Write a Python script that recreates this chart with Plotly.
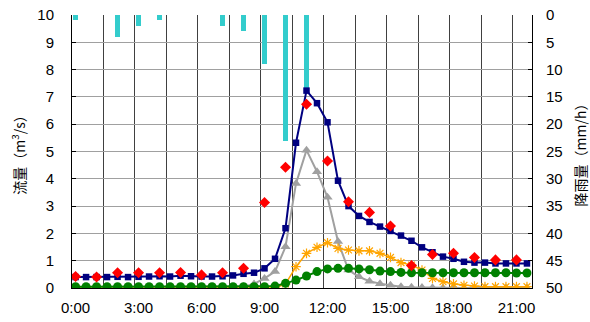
import plotly.graph_objects as go

# ---- data ----
time_labels = ["0:00","0:30","1:00","1:30","2:00","2:30","3:00","3:30","4:00","4:30",
               "5:00","5:30","6:00","6:30","7:00","7:30","8:00","8:30","9:00","9:30",
               "10:00","10:30","11:00","11:30","12:00","12:30","13:00","13:30","14:00","14:30",
               "15:00","15:30","16:00","16:30","17:00","17:30","18:00","18:30","19:00","19:30",
               "20:00","20:30","21:00","21:30"]

calc_total = [0.40,0.40,0.40,0.40,0.41,0.40,0.41,0.42,0.43,0.42,
              0.45,0.43,0.42,0.42,0.43,0.46,0.52,0.56,0.72,1.07,
              2.19,5.32,7.23,6.77,6.07,3.93,3.00,2.64,2.42,2.25,
              2.09,1.92,1.73,1.49,1.31,1.15,1.07,0.96,0.93,0.93,
              0.90,0.90,0.90,0.90]

calc_surface = [0,0,0,0,0,0,0,0,0,0,
                0,0,0,0,0,0,0.05,0.15,0.35,0.60,
                1.51,3.83,5.05,4.26,3.32,1.70,0.66,0.41,0.25,0.16,
                0.10,0.05,0.03,0.02,0.01,0,0,0,0,0,
                0,0,0,0]

calc_inter = [0,0,0,0,0,0,0,0,0,0,
              0,0,0,0,0,0,0,0,0,0,
              0.15,0.78,1.27,1.49,1.66,1.45,1.39,1.36,1.36,1.27,
              1.12,0.93,0.84,0.66,0.35,0.23,0.15,0.10,0.07,0.05,
              0.05,0.05,0.05,0.05]

calc_base = [0.05,0.05,0.05,0.05,0.05,0.05,0.05,0.05,0.05,0.05,
             0.05,0.05,0.05,0.05,0.05,0.05,0.05,0.05,0.05,0.07,
             0.17,0.29,0.44,0.60,0.70,0.72,0.72,0.70,0.67,0.62,
             0.60,0.57,0.56,0.56,0.56,0.56,0.56,0.56,0.56,0.56,
             0.56,0.56,0.55,0.55]

obs_labels = ["0:00","1:00","2:00","3:00","4:00","5:00","6:00","7:00","8:00","9:00","10:00",
              "11:00","12:00","13:00","14:00","15:00","16:00","17:00","18:00","19:00","20:00","21:00"]
obs_flow = [0.42,0.40,0.56,0.56,0.56,0.57,0.48,0.56,0.72,3.13,4.42,
            6.73,4.65,3.16,2.77,2.27,0.82,1.23,1.27,1.12,1.03,1.03]

rain_labels = ["0:00","2:00","3:00","4:00","7:00","8:00","9:00","10:00","11:00"]
rain_mm = [1, 4, 2, 1, 2, 3, 9, 23, 13.5]

xtick_labels = ["0:00","3:00","6:00","9:00","12:00","15:00","18:00","21:00"]


def to_hours(s):
    h, m = s.split(":")
    return int(h) + int(m) / 60.0


t = [to_hours(s) for s in time_labels]
t_obs = [to_hours(s) for s in obs_labels]
t_rain = [to_hours(s) for s in rain_labels]
t_ticks = [to_hours(s) for s in xtick_labels]

FONT = "Liberation Sans, Arial, sans-serif"
CJK = "Noto Sans CJK JP"

fig = go.Figure()

# rain bars on the base (right, reversed) axis so lines draw above
fig.add_trace(go.Bar(x=t_rain, y=rain_mm, xaxis="x", yaxis="y",
                     marker=dict(color="#33CCCC", line=dict(width=0)),
                     width=0.27, showlegend=False))

fig.add_trace(go.Scatter(x=t, y=calc_surface, xaxis="x", yaxis="y2", mode="lines+markers",
                         line=dict(color="#A0A0A0", width=2),
                         marker=dict(symbol="triangle-up", size=9, color="#A0A0A0"),
                         showlegend=False))
fig.add_trace(go.Scatter(x=t, y=calc_inter, xaxis="x", yaxis="y2", mode="lines+markers",
                         line=dict(color="#FFA500", width=1.5),
                         marker=dict(symbol="asterisk-open", size=8,
                                     line=dict(color="#FFA500", width=1.2)),
                         showlegend=False))
fig.add_trace(go.Scatter(x=t, y=calc_base, xaxis="x", yaxis="y2", mode="lines+markers",
                         line=dict(color="#008000", width=2),
                         marker=dict(symbol="circle", size=9, color="#008000"),
                         showlegend=False))
fig.add_trace(go.Scatter(x=t, y=calc_total, xaxis="x", yaxis="y2", mode="lines+markers",
                         line=dict(color="#000080", width=2),
                         marker=dict(symbol="square", size=6.5, color="#000080"),
                         showlegend=False))
fig.add_trace(go.Scatter(x=t_obs, y=obs_flow, xaxis="x", yaxis="y2", mode="markers",
                         marker=dict(symbol="diamond", size=8.5, color="#FF0000"),
                         showlegend=False))

fig.update_layout(
    width=590, height=322,
    margin=dict(l=72, r=58, t=15, b=34, autoexpand=False),
    paper_bgcolor="white", plot_bgcolor="white",
    showlegend=False, bargap=0,
    xaxis=dict(
        range=[-0.17, 21.74],
        tickmode="array", tickvals=t_ticks, ticktext=xtick_labels,
        showgrid=False, zeroline=False,
        ticks="", showline=True, linecolor="#000000", linewidth=1,
        tickfont=dict(family=FONT, size=15, color="#000000"),
        ticklabelstandoff=6,
        minor=dict(tickmode="linear", tick0=-0.17, dtick=1.5, showgrid=True,
                   gridcolor="#404040", gridwidth=1, ticks=""),
    ),
    yaxis=dict(
        side="right", range=[50, 0], tickmode="linear", tick0=0, dtick=5,
        showgrid=True, gridcolor="#A0A0A0", gridwidth=1, zeroline=False,
        ticks="inside", ticklen=4, tickcolor="#000000",
        showline=True, linecolor="#000000", linewidth=1,
        tickfont=dict(family=FONT, size=15, color="#000000"),
        ticklabelstandoff=10,
        title=dict(text="降雨量（mm/h）", font=dict(family=CJK, size=14, color="#000000"),
                   standoff=20),
    ),
    yaxis2=dict(
        overlaying="y", side="left", range=[0, 10], tickmode="linear", tick0=0, dtick=1,
        showgrid=False, zeroline=False,
        ticks="inside", ticklen=4, tickcolor="#000000",
        showline=True, linecolor="#000000", linewidth=1,
        tickfont=dict(family=FONT, size=15, color="#000000"),
        ticklabelstandoff=14,
        title=dict(text="流量（m<sup>3</sup>/s）", font=dict(family=CJK, size=14, color="#000000"),
                   standoff=8),
    ),
)

fig.write_html("out.html", config={"displayModeBar": False},
               post_script="document.body.style.margin='0';document.body.style.padding='0';")
